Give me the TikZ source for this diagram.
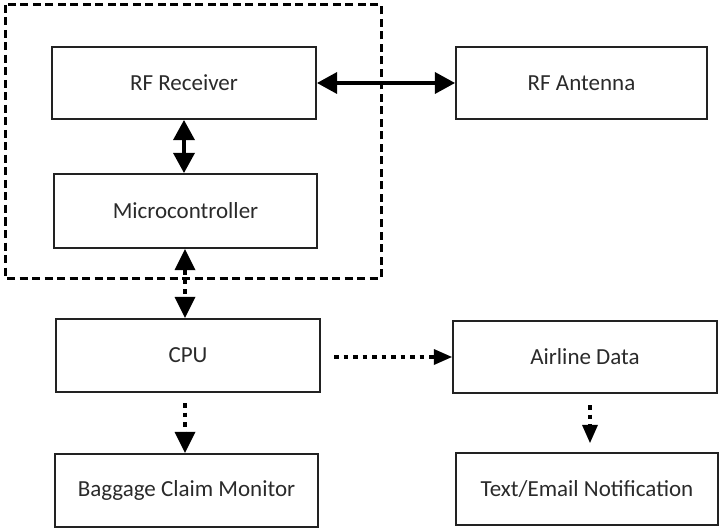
\documentclass[tikz,border=0pt]{standalone}
\usepackage{fontspec}
\setmainfont{Carlito}
\usetikzlibrary{arrows.meta}
\definecolor{boxline}{HTML}{222222}
\definecolor{txt}{HTML}{2A2A2A}
\tikzset{
  blk/.style={draw=boxline, line width=2.2pt, rectangle, inner sep=0pt, text=txt,
    font=\fontsize{23}{27}\selectfont},
  solidarr/.style={line width=3.2pt, {Triangle[length=20pt,width=22pt,line width=0pt]}-{Triangle[length=20pt,width=22pt,line width=0pt]}},
  dotline/.style={line width=4pt, dash pattern=on 4.5pt off 5pt},
  bigtip/.style={-{Triangle[length=21pt,width=21pt,line width=0pt]}},
  smalltip/.style={-{Triangle[length=18pt,width=16pt,line width=0pt]}},
  grp/.style={draw=black, line width=3pt, dash pattern=on 8pt off 4.5pt}
}
\begin{document}
\begin{tikzpicture}[x=1pt,y=-1pt]
\useasboundingbox (0,0) rectangle (719,529);
\draw[grp] (5,5) rectangle (381,278);
\node[blk, minimum width=264pt, minimum height=72pt] (rfr) at (184,83) {RF Receiver};
\node[blk, minimum width=251pt, minimum height=72pt] (rfa) at (581.5,83) {RF Antenna};
\node[blk, minimum width=263pt, minimum height=74pt] (mc) at (185.5,211) {Microcontroller};
\node[blk, minimum width=264pt, minimum height=73pt] (cpu) at (188,355.5) {CPU};
\node[blk, minimum width=264pt, minimum height=72pt] (air) at (585,357) {Airline Data};
\node[blk, minimum width=263pt, minimum height=73pt] (bag) at (186.5,490.5) {Baggage Claim Monitor};
\node[blk, minimum width=262pt, minimum height=72pt] (txe) at (587,489) {Text/Email Notification};
% connectors
\draw[solidarr] (rfr.east) -- (rfr.east -| rfa.west);
\draw[solidarr] (rfr.south) -- (rfr.south |- mc.north);
\draw[dotline, {Triangle[length=21pt,width=21pt,line width=0pt]}-{Triangle[length=21pt,width=21pt,line width=0pt]}]
  ([xshift=-0.5pt]mc.south) -- ([xshift=-0.5pt]mc.south |- cpu.north);
\draw[dotline, smalltip, shorten <=13pt] ([yshift=-1.5pt]cpu.east) -- ([yshift=-1.5pt]cpu.east -| air.west);
\draw[dotline, bigtip, shorten <=10pt] ([xshift=-3pt]cpu.south) -- ([xshift=-3pt]cpu.south |- bag.north);
\draw[dotline, smalltip, shorten <=11pt, shorten >=9pt] ([xshift=5pt]air.south) -- ([xshift=5pt]air.south |- txe.north);
\end{tikzpicture}
\end{document}
